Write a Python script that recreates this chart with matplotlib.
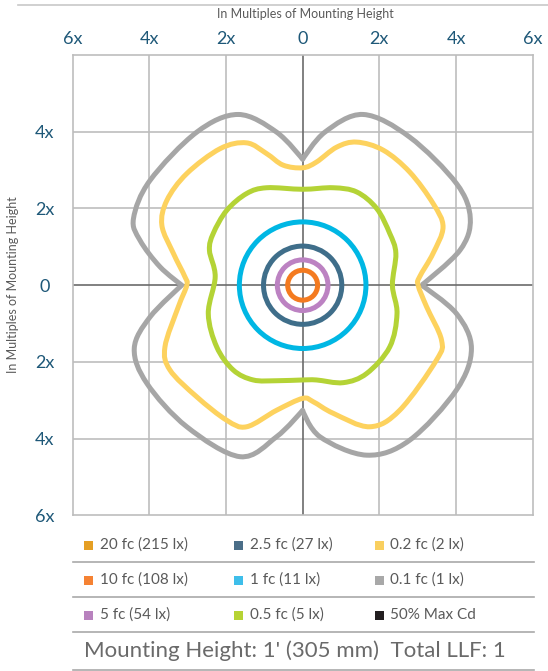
import matplotlib as mpl
mpl.use('Agg')

import matplotlib.pyplot as plt
import matplotlib.patches as patches
from matplotlib.path import Path
import numpy as np

plt.rcParams['font.family'] = ['Lato', 'DejaVu Sans']

# isofootcandle contours, in multiples of mounting height
gray_pts = [(3.10, 0.00), (4.10, 0.91), (4.37, 1.74), (4.01, 2.65), (2.79, 3.86),
            (1.58, 4.45), (0.58, 3.99), (0.00, 3.28), (-0.68, 3.99), (-1.68, 4.45),
            (-2.76, 3.99), (-3.98, 2.73), (-4.41, 1.74), (-4.24, 1.17), (-3.72, 0.48),
            (-3.15, 0.00), (-3.98, -0.83), (-4.39, -1.65), (-4.06, -2.56), (-3.02, -3.69),
            (-1.63, -4.47), (-0.68, -3.95), (0.00, -3.26), (0.45, -3.95), (1.67, -4.43),
            (2.79, -4.04), (4.01, -2.73), (4.40, -1.65), (4.01, -0.74)]
gray_corners = [0, 7, 15, 22]

yellow_pts = [(3.01, 0.00), (3.05, 0.22), (3.40, 0.83), (3.66, 1.52), (3.40, 2.13),
              (2.79, 2.95), (2.10, 3.52), (1.41, 3.73), (0.89, 3.60), (0.36, 3.21),
              (0.00, 3.06), (-0.51, 3.13), (-0.94, 3.43), (-1.46, 3.71), (-2.15, 3.56),
              (-3.02, 2.91), (-3.54, 2.21), (-3.67, 1.56), (-3.37, 0.83), (-3.07, 0.22),
              (-3.02, 0.00), (-3.24, -0.56), (-3.59, -1.61), (-3.46, -2.21), (-2.76, -2.91),
              (-1.98, -3.52), (-1.46, -3.69), (-0.68, -3.26), (0.00, -2.95), (0.28, -3.04),
              (0.80, -3.34), (1.75, -3.69), (2.53, -3.26), (3.49, -1.95), (3.62, -1.43),
              (3.23, -0.56)]

green_pts = [(2.34, 0.00), (2.43, 0.83), (2.27, 1.35), (1.93, 2.00), (1.41, 2.43),
             (0.80, 2.54), (0.00, 2.50), (-0.94, 2.54), (-1.46, 2.39), (-1.98, 1.95),
             (-2.33, 1.35), (-2.43, 0.91), (-2.28, 0.22), (-2.46, -0.74), (-2.24, -1.61),
             (-1.81, -2.21), (-1.29, -2.47), (-0.68, -2.49), (0.00, -2.47), (0.36, -2.47),
             (1.06, -2.54), (1.67, -2.30), (2.27, -1.61), (2.46, -0.74)]

# near-circular contours: radius per level
circle_radii = {'1 fc': 1.65, '2.5 fc': 1.02, '5 fc': 0.66, '10 fc': 0.39}

legend_labels = ['20 fc (215 lx)', '10 fc (108 lx)', '5 fc (54 lx)',
                 '2.5 fc (27 lx)', '1 fc (11 lx)', '0.5 fc (5 lx)',
                 '0.2 fc (2 lx)', '0.1 fc (1 lx)', '50% Max Cd']
legend_colors = ['#E59F24', '#F58233', '#B882BE', '#4B6E88', '#3EBEEA',
                 '#B6D334', '#F9CF5F', '#A8A8A8', '#231F20']

line_colors = {'20 fc': '#E59F24', '10 fc': '#F47B20', '5 fc': '#BC82C2',
               '2.5 fc': '#3F6E8A', '1 fc': '#00B7E4', '0.5 fc': '#B4D336',
               '0.2 fc': '#FDD25E', '0.1 fc': '#A6A6A6'}

xticks = [-6, -4, -2, 0, 2, 4, 6]
xtick_labels = ['6x', '4x', '2x', '0', '2x', '4x', '6x']
yticks = [-6, -4, -2, 0, 2, 4]
ytick_labels = ['6x', '4x', '2x', '0', '2x', '4x']

footer = "Mounting Height: 1' (305 mm)  Total LLF: 1"

TICK_COLOR = '#1E5878'
TEXT_GRAY = '#5a5a5a'


def smooth_path(pts, corners=()):
    # closed Catmull-Rom through the points, drawn as cubic Beziers
    p = np.asarray(pts, float)
    n = len(p)
    tang = np.array([(p[(i + 1) % n] - p[i - 1]) / 6.0 for i in range(n)])
    for c in corners:
        tang[c] = 0.0
    verts = [p[0]]
    codes = [Path.MOVETO]
    for i in range(n):
        j = (i + 1) % n
        verts += [p[i] + tang[i], p[j] - tang[j], p[j]]
        codes += [Path.CURVE4] * 3
    return Path(verts, codes)


W, H = 548, 671
fig = plt.figure(figsize=(W / 100, H / 100), dpi=100)

x0, x1, ytop, ybot = 72.5, 532.8, 55.0, 515.4
ax = fig.add_axes([x0 / W, 1 - ybot / H, (x1 - x0) / W, (ybot - ytop) / H])
ax.set_xlim(-6, 6)
ax.set_ylim(-6, 6)

for v in [-4, -2, 2, 4]:
    ax.axvline(v, color='#BDBDBD', lw=1.2, zorder=1)
    ax.axhline(v, color='#BDBDBD', lw=1.2, zorder=1)
ax.axvline(0, color='#6b6b6b', lw=1.2, zorder=1)
ax.axhline(0, color='#6b6b6b', lw=1.2, zorder=1)
for s in ax.spines.values():
    s.set_color('#BDBDBD')
    s.set_linewidth(1.2)

lw = 3.6
for key, pts, corners in [('0.1 fc', gray_pts, gray_corners),
                          ('0.2 fc', yellow_pts, ()),
                          ('0.5 fc', green_pts, ())]:
    ax.add_patch(patches.PathPatch(smooth_path(pts, corners), fill=False,
                                   edgecolor=line_colors[key], lw=lw,
                                   joinstyle='round', zorder=3))
for key, r in circle_radii.items():
    ax.add_patch(patches.Circle((0, 0), r, fill=False,
                                edgecolor=line_colors[key], lw=lw, zorder=3))

ax.xaxis.tick_top()
ax.set_xticks(xticks)
ax.set_xticklabels(xtick_labels)
ax.set_yticks(yticks)
ax.set_yticklabels(ytick_labels)
ax.tick_params(axis='x', length=0, pad=6, labelsize=13, labelcolor=TICK_COLOR)
ax.tick_params(axis='y', length=0, labelsize=13, labelcolor=TICK_COLOR)
for t in ax.get_yticklabels():
    t.set_horizontalalignment('center')
ax.tick_params(axis='y', pad=20)

# overlay in pixel coordinates for legend and labels
lax = fig.add_axes([0, 0, 1, 1])
lax.set_xlim(0, W)
lax.set_ylim(H, 0)
lax.axis('off')
lax.patch.set_alpha(0)

lax.plot([18, W], [5, 5], color='#C8C8C8', lw=1.2)
lax.text(305, 14, 'In Multiples of Mounting Height', ha='center', va='center',
         fontsize=9, color=TEXT_GRAY)
lax.text(13, 285, 'In Multiples of Mounting Height', ha='center', va='center',
         rotation=90, fontsize=9, color=TEXT_GRAY)

col_sq = [84, 234, 375]
col_tx = [100, 250, 390]
row_y = [545, 580, 615]
for i, (lab, col) in enumerate(zip(legend_labels, legend_colors)):
    c, r = divmod(i, 3)
    lax.add_patch(patches.Rectangle((col_sq[c], row_y[r] - 4.5), 9, 9,
                                    color=col, lw=0))
    lax.text(col_tx[c], row_y[r], lab, ha='left', va='center',
             fontsize=11, color=TEXT_GRAY)
for y in [562, 597, 632, 670]:
    lax.plot([73, 534], [y, y], color='#A9A9A9', lw=1.2)

lax.text(84, 651, footer, ha='left', va='center', fontsize=16, color='#6a6a6a')

fig.savefig('out.png', dpi=100)
